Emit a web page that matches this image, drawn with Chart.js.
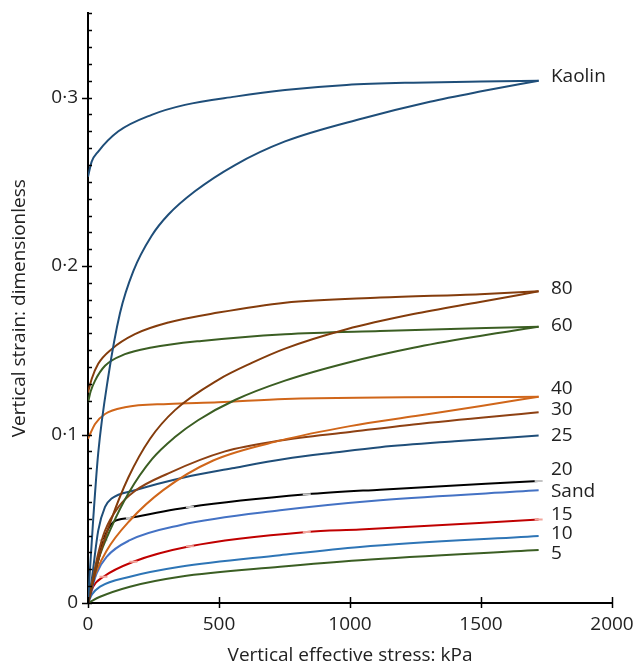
<!DOCTYPE html>
<html>
<head>
<meta charset="utf-8">
<script src="https://cdn.jsdelivr.net/npm/chart.js@4"></script>
<style>
html, body { margin: 0; padding: 0; background: #fff; }
</style>
</head>
<body>
<canvas id="myChart" width="641" height="669"></canvas>
<script>
// Données : contrainte (kPa) -> déformation
const kaolinLoadX = [0, 8, 20, 39, 77, 122, 173, 243, 307, 408, 561, 752, 1051, 1305, 1496, 1720];
const kaolinLoadY = [0, 0.021, 0.05, 0.089, 0.134, 0.172, 0.197, 0.218, 0.2306, 0.2444, 0.26, 0.274, 0.2878, 0.2976, 0.3036, 0.31];
const kaolinUnloadX = [0, 14, 39, 116, 243, 370, 561, 752, 987, 1241, 1500, 1720];
const kaolinUnloadY = [0.253, 0.262, 0.268, 0.28, 0.2898, 0.2957, 0.3006, 0.3045, 0.3075, 0.3089, 0.3096, 0.31];

const s80LoadX = [0, 39, 90, 154, 237, 332, 497, 625, 752, 987, 1242, 1496, 1720];
const s80LoadY = [0, 0.0254, 0.050, 0.0745, 0.0975, 0.1145, 0.1325, 0.1425, 0.151, 0.1625, 0.1715, 0.1787, 0.185];
const s80UnloadX = [0, 14, 39, 90, 179, 307, 497, 752, 1115, 1496, 1720];
const s80UnloadY = [0.125, 0.133, 0.142, 0.1507, 0.1596, 0.1665, 0.1724, 0.1783, 0.1813, 0.1833, 0.185];

const s60LoadX = [0, 39, 90, 154, 245, 332, 420, 561, 752, 987, 1242, 1496, 1720];
const s60LoadY = [0, 0.0254, 0.0452, 0.065, 0.0855, 0.0985, 0.1085, 0.1205, 0.132, 0.1425, 0.1515, 0.1585, 0.164];
const s60UnloadX = [0, 10, 27, 65, 141, 243, 433, 752, 1115, 1720];
const s60UnloadY = [0.119, 0.1255, 0.132, 0.1408, 0.1477, 0.1517, 0.1556, 0.1596, 0.1615, 0.164];

const s40LoadX = [0, 20, 71, 160, 287, 478, 733, 1000, 1250, 1500, 1720];
const s40LoadY = [0, 0.0136, 0.031, 0.049, 0.067, 0.0846, 0.0964, 0.105, 0.111, 0.117, 0.1225];
const s40UnloadX = [0, 27, 65, 141, 307, 497, 752, 1720];
const s40UnloadY = [0.0975, 0.1063, 0.1122, 0.1162, 0.1182, 0.1191, 0.1211, 0.1225];

const s30X = [0, 14, 39, 65, 116, 179, 307, 523, 733, 1000, 1242, 1720];
const s30Y = [0, 0.011, 0.0294, 0.043, 0.057, 0.0665, 0.077, 0.09, 0.0964, 0.1015, 0.106, 0.1132];

const s25X = [0, 14, 39, 65, 90, 179, 370, 550, 750, 949, 1115, 1400, 1720];
const s25Y = [0, 0.0136, 0.043, 0.057, 0.062, 0.0669, 0.0747, 0.08, 0.0855, 0.0895, 0.0925, 0.096, 0.0994];

const s20X = [0, 33, 59, 78, 97, 160, 389, 835, 1115, 1720];
const s20Y = [0, 0.0215, 0.0373, 0.0442, 0.0481, 0.0505, 0.057, 0.0645, 0.0673, 0.0724];
const s20Marks = [2, 5, 6, 7, 9];

const sandX = [0, 33, 71, 160, 351, 733, 1115, 1720];
const sandY = [0, 0.0176, 0.0274, 0.0373, 0.0462, 0.055, 0.061, 0.0669];

const s15X = [0, 20, 59, 173, 389, 835, 1038, 1720];
const s15Y = [0, 0.0097, 0.0156, 0.0245, 0.0337, 0.0422, 0.0436, 0.0495];
const s15Marks = [2, 3, 4, 5, 7];

const s10X = [0, 15, 46, 160, 351, 733, 1038, 1720];
const s10Y = [0, 0.005, 0.0097, 0.0156, 0.0215, 0.0284, 0.0333, 0.0398];

const s5X = [0, 46, 160, 351, 733, 1038, 1720];
const s5Y = [0, 0.0037, 0.0097, 0.0156, 0.0215, 0.0254, 0.0314];

// étiquettes en bout de courbe
const curveNames = ['Kaolin', '80', '60', '40', '30', '25', '20', 'Sand', '15', '10', '5'];
const curveNameY = [0.3124, 0.1864, 0.1645, 0.1272, 0.1148, 0.0994, 0.0793, 0.0663, 0.0527, 0.0414, 0.0296];
const curveNameX = 1767;

const xTicks = [0, 500, 1000, 1500, 2000];

const FONT = '"Open Sans", "Noto Sans", sans-serif';

function pts(xs, ys) {
    return xs.map((x, i) => ({ x: x, y: ys[i] }));
}

function serie(xs, ys, color, marks, markColor) {
    return {
        data: pts(xs, ys),
        borderColor: color,
        borderWidth: 2,
        showLine: true,
        fill: false,
        cubicInterpolationMode: 'monotone',
        pointStyle: 'line',
        pointRadius: ctx => (marks && marks.includes(ctx.dataIndex)) ? 4 : 0,
        pointBorderColor: markColor || color,
        pointBorderWidth: 2,
        pointHoverRadius: 0
    };
}

const tickMarks = {
    id: 'tickMarks',
    afterDraw(chart) {
        const { ctx, scales: { x, y } } = chart;
        ctx.save();
        ctx.strokeStyle = '#000';
        ctx.lineWidth = 1.5;
        y.ticks.forEach(t => {
            const py = Math.round(y.getPixelForValue(t.value)) + 0.5;
            const major = Math.round(t.value * 100) % 10 === 0;
            ctx.beginPath();
            ctx.moveTo(x.left - (major ? 6 : 0), py);
            ctx.lineTo(x.left + 4, py);
            ctx.stroke();
        });
        x.ticks.forEach(t => {
            const px = Math.round(x.getPixelForValue(t.value)) + 0.5;
            ctx.beginPath();
            ctx.moveTo(px, y.bottom - 6);
            ctx.lineTo(px, y.bottom + 5);
            ctx.stroke();
        });
        ctx.restore();
    }
};

const curveLabels = {
    id: 'curveLabels',
    afterDatasetsDraw(chart) {
        const { ctx, scales: { x, y } } = chart;
        ctx.save();
        ctx.fillStyle = '#222';
        ctx.font = '19px ' + FONT;
        ctx.textAlign = 'left';
        ctx.textBaseline = 'middle';
        curveNames.forEach((name, i) => {
            ctx.fillText(name, x.getPixelForValue(curveNameX), y.getPixelForValue(curveNameY[i]));
        });
        ctx.restore();
    }
};

const ctx = document.getElementById('myChart').getContext('2d');
const myChart = new Chart(ctx, {
    type: 'scatter',
    data: {
        datasets: [
            serie(kaolinLoadX, kaolinLoadY, '#1f4e79'),
            serie(kaolinUnloadX, kaolinUnloadY, '#1f4e79'),
            serie(s80LoadX, s80LoadY, '#843c0c'),
            serie(s80UnloadX, s80UnloadY, '#843c0c'),
            serie(s60LoadX, s60LoadY, '#3b5e23'),
            serie(s60UnloadX, s60UnloadY, '#3b5e23'),
            serie(s40LoadX, s40LoadY, '#d0661a'),
            serie(s40UnloadX, s40UnloadY, '#d0661a'),
            serie(s30X, s30Y, '#8e4113'),
            serie(s25X, s25Y, '#1f4e79'),
            serie(s20X, s20Y, '#000000', s20Marks, '#c4c4c4'),
            serie(sandX, sandY, '#4472c4'),
            serie(s15X, s15Y, '#c00000', s15Marks, '#f2a59c'),
            serie(s10X, s10Y, '#2e75b6'),
            serie(s5X, s5Y, '#3b5e23')
        ]
    },
    options: {
        responsive: false,
        animation: false,
        layout: { padding: { top: 4, right: 29, left: 0, bottom: 0 } },
        plugins: {
            legend: { display: false },
            tooltip: { enabled: false }
        },
        scales: {
            x: {
                type: 'linear',
                min: 0,
                max: 2000,
                afterBuildTicks: scale => { scale.ticks = xTicks.map(v => ({ value: v })); },
                ticks: {
                    autoSkip: false,
                    maxRotation: 0,
                    padding: 2,
                    color: '#222',
                    font: { family: FONT, size: 19 },
                    callback: v => String(v)
                },
                grid: { display: false },
                border: { display: true, color: '#000', width: 2 },
                title: {
                    display: true,
                    text: 'Vertical effective stress: kPa',
                    color: '#222',
                    font: { family: FONT, size: 19 },
                    padding: { top: 4, bottom: 2 }
                },
                afterFit: scale => { scale.height = 66; }
            },
            y: {
                type: 'linear',
                min: 0,
                max: 0.35,
                ticks: {
                    stepSize: 0.01,
                    autoSkip: false,
                    padding: 2,
                    color: '#222',
                    font: { family: FONT, size: 19 },
                    callback: v => {
                        const n = Math.round(v * 100);
                        if (n % 10 !== 0) return '';
                        return n === 0 ? '0' : '0·' + (n / 10);
                    }
                },
                grid: { display: false },
                border: { display: true, color: '#000', width: 2 },
                title: {
                    display: true,
                    text: 'Vertical strain: dimensionless',
                    color: '#222',
                    font: { family: FONT, size: 19 },
                    padding: { top: 8, bottom: 4 }
                },
                afterFit: scale => { scale.width = 88; }
            }
        }
    },
    plugins: [tickMarks, curveLabels]
});
</script>
</body>
</html>
